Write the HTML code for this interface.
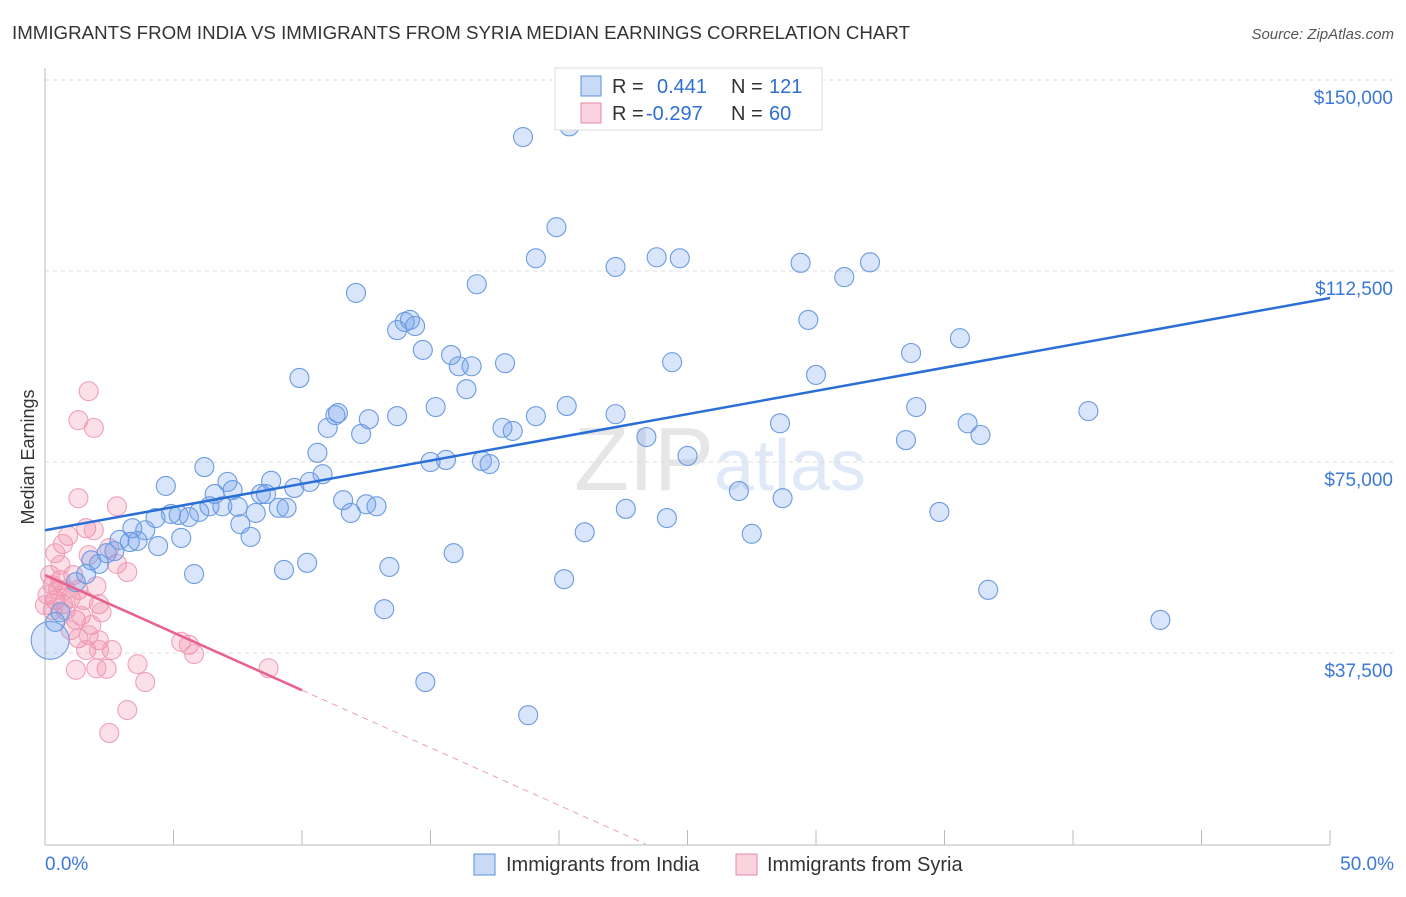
<!DOCTYPE html>
<html><head><meta charset="utf-8"><style>
body{margin:0;background:#fff;font-family:"Liberation Sans",sans-serif;}
svg text{font-family:"Liberation Sans",sans-serif;}
</style></head><body>
<svg id="chart" width="1406" height="892" xmlns="http://www.w3.org/2000/svg">
<text x="12" y="39" font-size="18" fill="#333" textLength="898" lengthAdjust="spacingAndGlyphs">IMMIGRANTS FROM INDIA VS IMMIGRANTS FROM SYRIA MEDIAN EARNINGS CORRELATION CHART</text>
<text x="1394" y="39" font-size="15" fill="#555" text-anchor="end" font-style="italic">Source: ZipAtlas.com</text>
<text x="720" y="490" font-size="90" fill="#ececec" text-anchor="middle" font-family="Liberation Serif"><tspan fill="#e6e6e6">ZIP</tspan><tspan fill="#dfe9f7" font-family="Liberation Sans" font-size="72">atlas</tspan></text>
<g id="grid"></g><g id="axes"></g><g id="marks"></g>
<text transform="translate(34,457) rotate(-90)" font-size="18" fill="#333" text-anchor="middle">Median Earnings</text>
<g>
<rect x="555" y="68" width="267" height="62" fill="#fff" stroke="#ddd"/>
<rect x="581" y="76" width="20" height="20" fill="rgba(100,150,230,0.35)" stroke="#5a8fd8"/>
<rect x="581" y="103" width="20" height="20" fill="rgba(240,130,160,0.35)" stroke="#e88aa8"/>
<text x="612" y="93" font-size="20" fill="#333">R =  <tspan fill="#2f6fd0" x="657">0.441</tspan><tspan fill="#333" x="731">N =</tspan><tspan fill="#2f6fd0" x="769">121</tspan></text>
<text x="612" y="120" font-size="20" fill="#333">R = <tspan fill="#2f6fd0" x="646">-0.297</tspan><tspan fill="#333" x="731">N =</tspan><tspan fill="#2f6fd0" x="769">60</tspan></text>
</g>
<g>
<rect x="474" y="854" width="21" height="21" fill="rgba(100,150,230,0.35)" stroke="#5a8fd8"/>
<text x="506" y="871" font-size="20" fill="#333">Immigrants from India</text>
<rect x="736" y="854" width="21" height="21" fill="rgba(240,130,160,0.35)" stroke="#e88aa8"/>
<text x="767" y="871" font-size="20" fill="#333">Immigrants from Syria</text>
</g>
</svg>
<script>
const yTicks=[37.5,75,112.5,150];
const yTickLabels=["$37,500","$75,000","$112,500","$150,000"];
const xTickLabels=["0.0%","50.0%"];
const indiaX=[18.6,20.4,19.9,19.1,22.2,23.8,24.7,29.4,32.1,31.1,16.8,12.1,13.7,14.0,14.2,14.4,14.7,15.8,16.1,16.6,17.9,24.4,29.7,33.7,35.6,9.9,30.0,16.4,15.2,20.3,22.2,11.3,11.4,11.0,12.3,12.6,13.7,17.8,18.2,19.1,23.4,33.9,40.6,28.6,33.5,35.9,36.4,10.6,10.8,15.0,15.6,17.0,17.3,25.0,6.2,7.1,7.3,4.7,6.6,8.8,9.7,10.3,11.6,12.5,12.9,11.9,8.4,8.6,9.1,9.4,6.4,6.9,7.5,6.0,8.2,4.3,4.9,5.2,5.6,7.6,8.0,3.4,3.9,3.3,2.9,3.6,5.3,4.4,2.4,2.7,1.8,2.1,5.8,9.3,10.2,13.4,15.9,20.2,21.0,22.6,24.2,27.0,27.5,28.7,34.8,36.7,43.4,13.2,14.8,18.8,1.6,1.2,0.6,0.4,0.2];
const indiaY=[138.8,140.9,121.1,115.0,113.3,115.2,115.0,114.1,114.2,111.3,109.9,108.2,100.9,102.5,102.9,101.7,97.0,96.0,93.8,93.8,94.4,94.6,102.9,96.4,99.3,91.5,92.1,89.3,85.8,86.0,84.4,84.2,84.6,81.7,80.5,83.4,84.0,81.7,81.1,84.0,79.9,85.8,85.0,82.6,79.3,82.6,80.3,76.8,72.6,75.0,75.4,75.2,74.6,76.2,74.0,71.1,69.5,70.3,68.7,71.3,69.9,71.1,67.5,66.7,66.3,65.0,68.7,68.7,66.0,66.0,66.3,66.3,66.2,65.2,65.0,64.0,64.8,64.6,64.2,62.8,60.3,62.0,61.6,59.3,59.7,59.5,60.1,58.5,57.1,57.5,55.7,55.0,53.0,53.8,55.2,54.4,57.1,52.0,61.2,65.8,64.0,69.3,60.9,67.9,65.2,49.9,44.0,46.1,31.8,25.3,53.0,51.4,45.5,43.6,40.0];
const syriaX=[1.7,1.3,1.9,1.3,2.8,0.9,0.7,0.4,1.6,1.9,2.5,2.8,3.2,1.7,2.0,1.1,0.6,0.3,0.1,0.4,0.7,1.0,1.3,1.5,2.1,2.2,0.8,1.2,1.4,1.8,1.0,1.3,1.7,2.1,1.6,2.1,2.6,3.6,3.9,2.4,1.2,2.0,3.2,2.5,5.3,5.6,5.8,8.7,0.3,0.5,0.8,0.0,0.2,0.6];
const syriaY=[88.9,83.2,81.7,67.9,66.3,60.5,58.9,57.1,62.0,61.6,58.1,55.0,53.4,56.7,50.6,52.8,51.8,50.8,48.9,47.9,47.1,48.3,49.9,47.9,47.1,45.5,45.9,44.0,44.8,43.0,42.0,40.4,41.0,40.0,38.1,38.1,38.1,35.3,31.8,34.4,34.2,34.5,26.3,21.8,39.7,39.1,37.3,34.5,45.9,49.9,49.9,46.9,52.8,54.8];
const indiaTrend=[61.6,107.2];
const syriaTrend=[52.8,-2.26];
const X=p=>45+p*25.7, Y=v=>844-v*191/37.5;
const NS="http://www.w3.org/2000/svg";
function mk(tag,attrs,parent){const e=document.createElementNS(NS,tag);for(const k in attrs)e.setAttribute(k,attrs[k]);document.getElementById(parent).appendChild(e);return e;}
yTicks.forEach((t,i)=>{
 const g=mk('line',{x1:45,x2:1394,y1:Y(t),y2:Y(t),stroke:'#ddd','stroke-dasharray':'4,4'},'grid');
 
 
 const tx=mk('text',{x:1393,y:Y(t)+24,'font-size':19,fill:'#3b78d8','text-anchor':'end'},'axes');
 tx.textContent=yTickLabels[i];
 
 
});
const ax=mk('line',{x1:45,x2:1330,y1:845,y2:845,stroke:'#bbb'},'axes');


const ay=mk('line',{x1:45,x2:45,y1:68,y2:845,stroke:'#bbb'},'axes');


for(let i=0;i<=10;i++){const t=mk('line',{x1:X(i*5),x2:X(i*5),y1:830,y2:845,stroke:'#bbb'},'axes');
 
 }
[[0,45,'start'],[50,1394,'end']].forEach((d,i)=>{const t=mk('text',{x:d[1],y:870,'font-size':19,fill:'#3b78d8','text-anchor':d[2]},'axes');t.textContent=xTickLabels[i];
 
 });
syriaX.forEach((x,i)=>{const c=mk('circle',{cx:X(x),cy:Y(syriaY[i]),r:9.5,fill:'rgba(240,130,160,0.25)',stroke:'#f0a0bb','stroke-width':1.1},'marks');
 
 });
indiaX.forEach((x,i)=>{const big=i===indiaX.length-1;const c=mk('circle',{cx:X(x),cy:Y(indiaY[i]),r:big?19:9.5,fill:'rgba(110,160,235,0.27)',stroke:'#6b9be0','stroke-width':1.1},'marks');
 
 });
const bl=mk('line',{x1:X(0),y1:Y(indiaTrend[0]),x2:X(50),y2:Y(indiaTrend[1]),stroke:'#2a6fd6','stroke-width':2.5},'marks');


const pl=mk('line',{x1:X(0),y1:Y(syriaTrend[0]),x2:X(10),y2:Y(syriaTrend[0]+syriaTrend[1]*10),stroke:'#e8608c','stroke-width':2.5},'marks');


const xe=-syriaTrend[0]/syriaTrend[1];
const pd=mk('line',{x1:X(10),y1:Y(syriaTrend[0]+syriaTrend[1]*10),x2:X(xe),y2:Y(0),stroke:'#e8a0b8','stroke-width':1,'stroke-dasharray':'6,5'},'marks');


</script>
</body></html>
